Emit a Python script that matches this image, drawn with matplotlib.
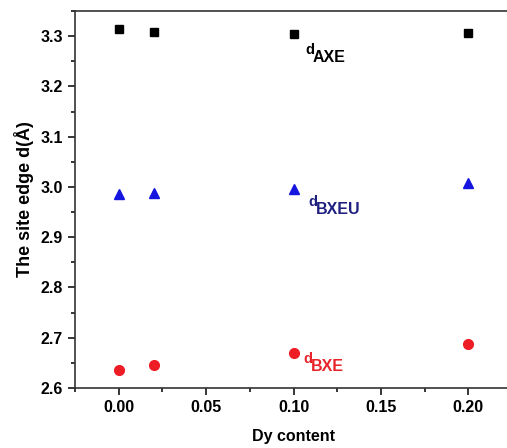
import matplotlib
matplotlib.use("Agg")
import matplotlib.pyplot as plt
from matplotlib.ticker import MultipleLocator
from matplotlib.transforms import offset_copy

plt.rcParams['font.family'] = ['Liberation Sans', 'DejaVu Sans']
plt.rcParams['font.weight'] = 'bold'

# Dy content and site edge distances (Angstrom)
dy = [0.00, 0.02, 0.10, 0.20]
d_axe = [3.314, 3.309, 3.305, 3.307]
d_bxeu = [2.985, 2.987, 2.995, 3.007]
d_bxe = [2.636, 2.645, 2.669, 2.687]

fig = plt.figure(figsize=(5.07, 4.48), dpi=100)
ax = fig.add_axes([0.148, 0.134, 0.862, 0.8415])

ax.plot(dy, d_axe, 's', color='black', ms=6, ls='none')
ax.plot(dy, d_bxeu, '^', color='#1515e0', ms=7, ls='none')
ax.plot(dy, d_bxe, 'o', color='#ee1c25', ms=7, ls='none')

ax.set_xlim(-0.025, 0.225)
ax.set_ylim(2.6, 3.35)
ax.xaxis.set_major_locator(MultipleLocator(0.05))
ax.xaxis.set_minor_locator(MultipleLocator(0.025))
ax.yaxis.set_major_locator(MultipleLocator(0.1))
ax.yaxis.set_minor_locator(MultipleLocator(0.05))
ax.xaxis.set_major_formatter(matplotlib.ticker.FormatStrFormatter('%.2f'))
ax.yaxis.set_major_formatter(matplotlib.ticker.FormatStrFormatter('%.1f'))
ax.tick_params(which='both', direction='out', width=1.1, labelsize=11.5)
ax.tick_params(which='major', length=5)
ax.tick_params(which='minor', length=3)
for s in ax.spines.values():
    s.set_linewidth(1.2)
    s.set_color('#333333')

ax.set_xlabel('Dy content', fontsize=11.5, fontweight='bold', labelpad=10)
ax.set_ylabel('The site edge d(\u00c5)', fontsize=13, fontweight='bold', labelpad=5)


def sub_label(x, y, sub, color):
    ax.text(x, y, 'd', color=color, fontsize=10.5, fontweight='bold', va='baseline')
    tr = offset_copy(ax.transData, fig=fig, x=7.5, y=-8, units='dots')
    ax.text(x, y, sub, color=color, fontsize=11.5, fontweight='bold',
            va='baseline', transform=tr)


sub_label(0.1065, 3.264, 'AXE', 'black')
sub_label(0.1085, 2.963, 'BXEU', '#1f1f80')
sub_label(0.1055, 2.649, 'BXE', '#e8232a')

fig.savefig('out.png', dpi=100)
